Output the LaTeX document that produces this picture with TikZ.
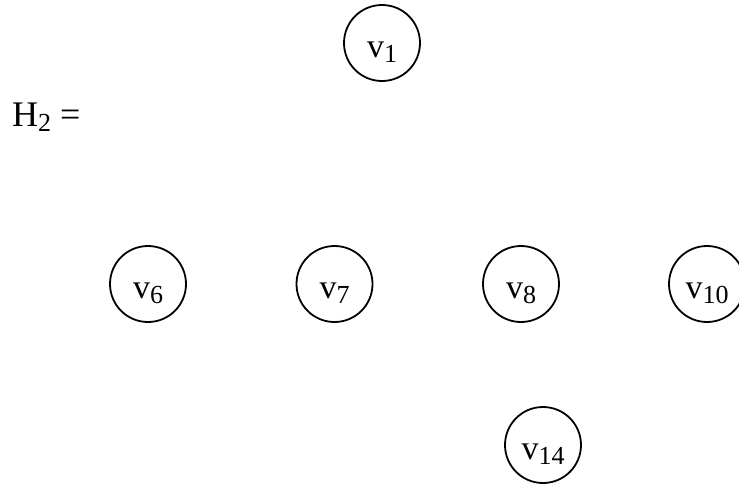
\documentclass[tikz,border=0pt]{standalone}
\usepackage{fontspec}
\setmainfont{Liberation Serif}
\newcommand{\vlab}[1]{{\fontsize{34}{38}\selectfont v\raisebox{-0.15em}{\fontsize{26}{28}\selectfont #1}}}
\begin{document}
\begin{tikzpicture}[x=1pt,y=-1pt,
  vtx/.style={draw=black,line width=1.8pt,circle,minimum size=76pt,inner sep=0pt,text height=28pt,text depth=0pt}]
\useasboundingbox (0,0) rectangle (739,488);
\node[anchor=base west,inner sep=0pt] (h) at (12,126) {\fontsize{36}{40}\selectfont H\raisebox{-0.15em}{\fontsize{26}{28}\selectfont 2} =};
\node[vtx] (v1) at (382,43) {\vlab{1}};
\node[vtx] (v6) at (148,284) {\vlab{6}};
\node[vtx] (v7) at (334.5,284) {\vlab{7}};
\node[vtx] (v8) at (521,284) {\vlab{8}};
\node[vtx] (v10) at (707,284) {\vlab{10}};
\node[vtx] (v14) at (543,445) {\vlab{14}};
\end{tikzpicture}
\end{document}
